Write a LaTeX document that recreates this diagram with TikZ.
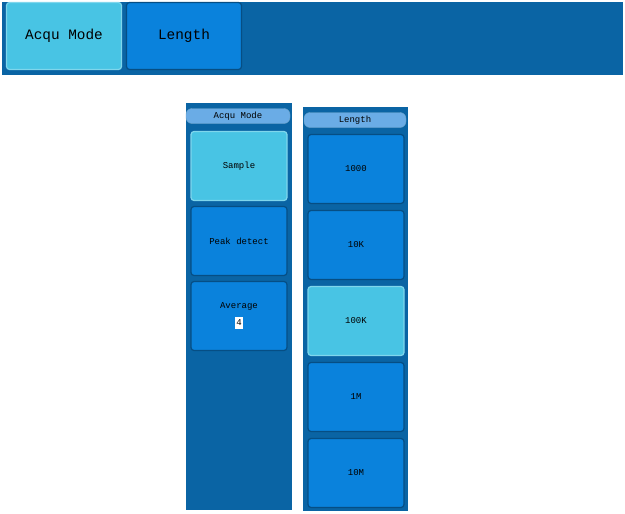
\documentclass[tikz,border=0pt]{standalone}
\usepackage{fontspec}
\setmonofont{Liberation Mono}
\usetikzlibrary{positioning}
\definecolor{panel}{HTML}{0A64A4}
\definecolor{btn}{HTML}{0A82DC}
\definecolor{sel}{HTML}{48C4E4}
\definecolor{hdr}{HTML}{6AACE6}
\begin{document}
\begin{tikzpicture}[x=1pt,y=-1pt]
	\tikzset{every node/.style={font=\ttfamily}, key/.style={draw=btn!60!black, line width=1.2pt, rounded corners=3pt, fill=btn, minimum width=96pt, minimum height=69pt, inner sep=0pt, font=\ttfamily\small}, picked/.style={key, fill=sel, draw=sel!70!white}, head/.style={draw=panel!60!white, rounded corners=6pt, fill=hdr, minimum height=15pt, inner sep=0pt, font=\ttfamily\small}}
	\useasboundingbox (0,0) rectangle (625,514);

	% top bar
	\fill[panel] (2,2) rectangle (623,75);
	\node[picked, minimum width=115pt, minimum height=67pt, font=\ttfamily\Large] (acqu) at (64,36) {Acqu Mode};
	\node[key, minimum width=115pt, minimum height=67pt, font=\ttfamily\Large] (len) at (184,36) {Length};

	% acquisition menu
	\fill[panel] (186,103) rectangle (292,510);
	\node[head, minimum width=104pt] (h1) at (238,116) {Acqu Mode};
	\node[picked] (sample) at (239,166) {Sample};
	\node[key] (peak) at (239,241) {Peak detect};
	\node[key, align=center] (avg) at (239,316) {Average\\[6pt]\colorbox{white}{\kern-2pt 4\kern-2pt}};

	% length menu
	\fill[panel] (303,107) rectangle (408,511);
	\node[head, minimum width=102pt] (h2) at (355,120) {Length};
	\foreach \lbl/\y/\st in {1000/169/key, 10K/245/key, 100K/321/picked, 1M/397/key, 10M/473/key}
		\node[\st] (l\lbl) at (356,\y) {\lbl};
\end{tikzpicture}
\end{document}
